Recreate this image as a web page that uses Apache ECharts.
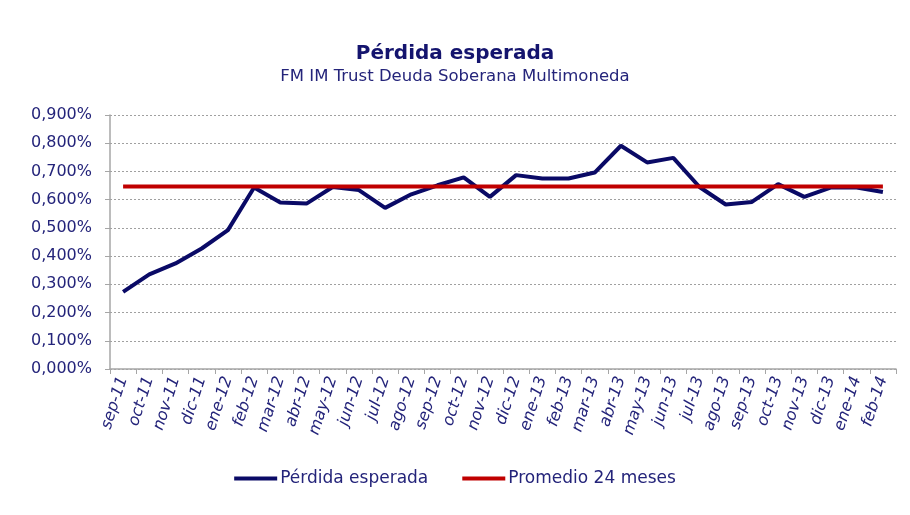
<!DOCTYPE html>
<html lang="es">
<head>
    <meta charset="UTF-8">
    <title>Pérdida esperada</title>
    <script src="https://cdn.jsdelivr.net/npm/echarts@6/dist/echarts.min.js"></script>
    <style>
        html, body { margin: 0; padding: 0; background: #fff; }
        #chart { width: 910px; height: 515px; }
    </style>
</head>
<body>
<div id="chart"></div>
<script>
    // meses
    var meses = ['sep-11', 'oct-11', 'nov-11', 'dic-11', 'ene-12', 'feb-12', 'mar-12', 'abr-12', 'may-12', 'jun-12',
        'jul-12', 'ago-12', 'sep-12', 'oct-12', 'nov-12', 'dic-12', 'ene-13', 'feb-13', 'mar-13', 'abr-13',
        'may-13', 'jun-13', 'jul-13', 'ago-13', 'sep-13', 'oct-13', 'nov-13', 'dic-13', 'ene-14', 'feb-14'];
    // perdida esperada (%)
    var perdida = [0.273, 0.335, 0.374, 0.427, 0.492, 0.643, 0.590, 0.586, 0.645, 0.634,
        0.571, 0.619, 0.651, 0.679, 0.610, 0.687, 0.675, 0.675, 0.696, 0.791,
        0.732, 0.748, 0.645, 0.583, 0.592, 0.655, 0.610, 0.643, 0.643, 0.627];
    // promedio 24 meses (%)
    var promedio = 0.647;
    var yTicks = [0, 0.9, 0.1];

    var txtColor = '#24247a';
    var fontFam = '"DejaVu Sans", Verdana, sans-serif';

    var chart = echarts.init(document.getElementById('chart'));
    chart.setOption({
        animation: false,
        title: {
            text: 'Pérdida esperada',
            subtext: 'FM IM Trust Deuda Soberana Multimoneda',
            left: 'center',
            top: 39,
            itemGap: 4,
            textStyle: { fontFamily: fontFam, fontSize: 20, fontWeight: 'bold', color: '#14146e' },
            subtextStyle: { fontFamily: fontFam, fontSize: 16.5, color: txtColor }
        },
        legend: {
            bottom: 23,
            left: 'center',
            itemWidth: 43,
            itemHeight: 4,
            itemGap: 34,
            icon: 'rect',
            textStyle: { fontFamily: fontFam, fontSize: 17, color: txtColor, padding: [0, 0, 0, -2] },
            data: ['Pérdida esperada', 'Promedio 24 meses']
        },
        grid: { left: 110, right: 14, top: 115, bottom: 146 },
        xAxis: {
            type: 'category',
            data: meses,
            boundaryGap: true,
            axisLine: { lineStyle: { color: '#a6a6a6', width: 1.5 } },
            axisTick: { show: true, length: 5, lineStyle: { color: '#a6a6a6' } },
            axisLabel: {
                interval: 0,
                rotate: 72,
                margin: 8,
                fontFamily: fontFam,
                fontSize: 16,
                fontStyle: 'italic',
                color: txtColor
            }
        },
        yAxis: {
            type: 'value',
            min: yTicks[0],
            max: yTicks[1],
            interval: yTicks[2],
            axisLine: { show: true, lineStyle: { color: '#a6a6a6', width: 1.5 } },
            axisTick: { show: true, length: 5, lineStyle: { color: '#a6a6a6' } },
            splitLine: { lineStyle: { color: '#a0a0a0', type: [2, 2], width: 1 } },
            axisLabel: {
                margin: 18,
                fontFamily: fontFam,
                fontSize: 16,
                color: txtColor,
                formatter: function (v) {
                    return v.toFixed(3).replace('.', ',') + '%';
                }
            }
        },
        series: [
            {
                name: 'Pérdida esperada',
                type: 'line',
                data: perdida,
                symbol: 'none',
                color: '#0a0a66',
                lineStyle: { color: '#0a0a66', width: 4 },
                z: 2
            },
            {
                name: 'Promedio 24 meses',
                type: 'line',
                data: meses.map(function () { return promedio; }),
                symbol: 'none',
                color: '#c00000',
                lineStyle: { color: '#c00000', width: 4 },
                z: 3
            }
        ]
    });
</script>
</body>
</html>
